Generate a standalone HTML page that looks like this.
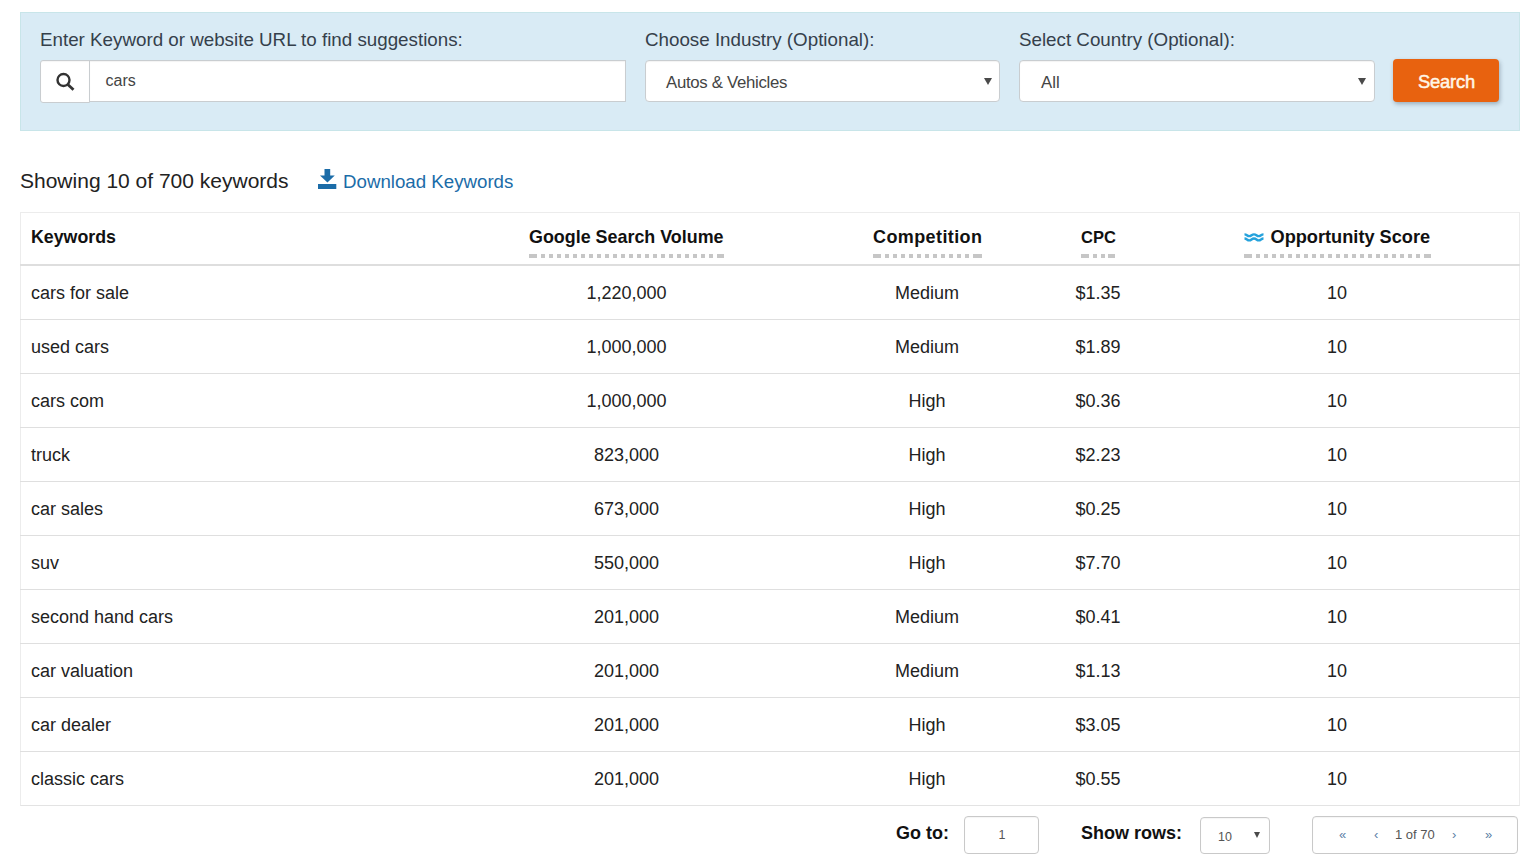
<!DOCTYPE html>
<html><head><meta charset="utf-8">
<style>
*{box-sizing:border-box;margin:0;padding:0}
html,body{width:1528px;height:863px;overflow:hidden;background:#fff}
body{position:relative;font-family:"Liberation Sans",sans-serif;color:#222}
.a{position:absolute}
.t{position:absolute;line-height:0;white-space:nowrap}
.panel{left:20px;top:12px;width:1500px;height:119px;background:#d9ebf5;border:1px solid #c8e5e9}
.addon{left:40px;top:60px;width:50px;height:43px;background:#fff;border:1px solid #c9cdd0;border-radius:3px 0 0 3px;box-shadow:inset 0 1px 1px rgba(0,0,0,.04)}
.inp{left:89px;top:60px;width:537px;height:42px;background:#fff;border:1px solid #c9cdd0;box-shadow:inset 0 1px 1px rgba(0,0,0,.05)}
.sel{top:60px;height:42px;background:#fff;border:1px solid #c9cdd0;border-radius:4px;box-shadow:inset 0 1px 1px rgba(0,0,0,.05)}
.arrow{width:0;height:0;border-left:4px solid transparent;border-right:4px solid transparent;border-top:7px solid #4a4a4a}
.btn{left:1393px;top:59px;width:106px;height:43px;background:#e8620f;border-radius:4px;box-shadow:1px 2px 4px rgba(40,60,80,.35)}
.tbl{left:20px;top:212px;width:1500px;height:594px;border:1px solid #ececec;border-bottom:1px solid #e3e3e3}
.hline{left:20px;top:264px;width:1500px;height:2px;background:#dedede}
.rline{left:20px;width:1500px;height:1px;background:#dfdfdf}
.dots{top:254px;height:4px;background:repeating-linear-gradient(90deg,#c6c6c6 0 4px,transparent 4px 8px)}
.dot2{top:254px;height:4px;background:#c6c6c6}
.box{background:#fff;border:1px solid #c9c9c9;border-radius:4px;box-shadow:inset 0 1px 1px rgba(0,0,0,.04)}
</style></head><body>
<div class="a panel"></div>
<div class="t" style="left:40px;top:40.19px;font-size:18.78px;color:#35404b;font-weight:normal;">Enter Keyword or website URL to find suggestions:</div>
<div class="t" style="left:645px;top:40.19px;font-size:18.78px;color:#35404b;font-weight:normal;">Choose Industry (Optional):</div>
<div class="t" style="left:1019px;top:40.19px;font-size:18.78px;color:#35404b;font-weight:normal;">Select Country (Optional):</div>
<div class="a addon"></div>
<svg class="a" style="left:52px;top:70px" width="28" height="26" viewBox="0 0 28 26">
<circle cx="11.5" cy="10" r="6" fill="none" stroke="#333" stroke-width="2.4"/>
<line x1="15.8" y1="14.5" x2="21.5" y2="19.8" stroke="#333" stroke-width="2.8"/></svg>
<div class="a inp"></div>
<div class="t" style="left:105.5px;top:81.46px;font-size:16px;color:#444;font-weight:normal;">cars</div>
<div class="a sel" style="left:645px;width:355px"></div>
<div class="t" style="left:666px;top:83.18px;font-size:16.8px;color:#444;font-weight:normal;letter-spacing:-0.3px">Autos &amp; Vehicles</div>
<div class="a arrow" style="left:983.5px;top:77.5px"></div>
<div class="a sel" style="left:1019px;width:356px"></div>
<div class="t" style="left:1041px;top:83.18px;font-size:16.8px;color:#444;font-weight:normal;">All</div>
<div class="a arrow" style="left:1358px;top:77.5px"></div>
<div class="a btn"></div>
<div class="t" style="left:1418px;top:81.62px;font-size:18.4px;color:#fff6e6;font-weight:normal;-webkit-text-stroke:0.5px #fff6e6;letter-spacing:-0.2px">Search</div>
<div class="t" style="left:20px;top:181.02px;font-size:21.0px;color:#222;font-weight:normal;">Showing 10 of 700 keywords</div>
<svg class="a" style="left:318px;top:169px" width="19" height="20" viewBox="0 0 19 20">
<rect x="6.5" y="0" width="5.7" height="7" fill="#1b6ca8"/>
<polygon points="2,6.5 16.8,6.5 9.4,13.5" fill="#1b6ca8"/>
<rect x="0" y="15" width="18.3" height="5" fill="#1b6ca8"/></svg>
<div class="t" style="left:343px;top:181.92px;font-size:18.7px;color:#1b6ca8;font-weight:normal;">Download Keywords</div>
<div class="a tbl"></div>
<div class="a hline"></div>
<div class="t" style="left:31px;top:236.83px;font-size:17.8px;color:#111;font-weight:bold;">Keywords</div>
<div class="t" style="left:529px;top:236.80px;font-size:17.9px;color:#111;font-weight:bold;">Google Search Volume</div>
<div class="a dots" style="left:529px;width:195px;background-position-x:4px"></div>
<div class="a dot2" style="left:529px;width:8px"></div>
<div class="a dot2" style="left:717px;width:7px"></div>
<div class="t" style="left:873px;top:236.76px;font-size:18px;color:#111;font-weight:bold;letter-spacing:0.4px">Competition</div>
<div class="a dots" style="left:873px;width:109px;background-position-x:4px"></div>
<div class="a dot2" style="left:873px;width:8px"></div>
<div class="a dot2" style="left:975px;width:7px"></div>
<div class="t" style="left:1081px;top:237.28px;font-size:16.5px;color:#111;font-weight:bold;">CPC</div>
<div class="a dots" style="left:1081px;width:34px;background-position-x:4px"></div>
<div class="a dot2" style="left:1081px;width:8px"></div>
<div class="a dot2" style="left:1108px;width:7px"></div>
<svg class="a" style="left:1243px;top:231px" width="22" height="12" viewBox="0 0 22 12">
<path d="M1.5 3.3 C3.9 3.3 4 5.2 6.25 5.2 C8.5 5.2 8.6 3.3 11 3.3 C13.4 3.3 13.5 5.2 15.75 5.2 C18 5.2 18.1 3.3 20.5 3.3" fill="none" stroke="#25a2dc" stroke-width="2.3"/>
<path d="M1.5 7.5 C3.9 7.5 4 9.4 6.25 9.4 C8.5 9.4 8.6 7.5 11 7.5 C13.4 7.5 13.5 9.4 15.75 9.4 C18 9.4 18.1 7.5 20.5 7.5" fill="none" stroke="#25a2dc" stroke-width="2.3"/></svg>
<div class="t" style="left:1270.5px;top:236.69px;font-size:18.2px;color:#111;font-weight:bold;">Opportunity Score</div>
<div class="a dots" style="left:1244px;width:187px;background-position-x:4px"></div>
<div class="a dot2" style="left:1244px;width:8px"></div>
<div class="a dot2" style="left:1424px;width:7px"></div>
<div class="t" style="left:31px;top:292.76px;font-size:18px;color:#222;font-weight:normal;">cars for sale</div>
<div class="t" style="left:626.5px;top:292.76px;font-size:18px;color:#222;font-weight:normal;transform:translateX(-50%);">1,220,000</div>
<div class="t" style="left:927px;top:292.76px;font-size:18px;color:#222;font-weight:normal;transform:translateX(-50%);">Medium</div>
<div class="t" style="left:1098px;top:292.76px;font-size:18px;color:#222;font-weight:normal;transform:translateX(-50%);">$1.35</div>
<div class="t" style="left:1337px;top:292.76px;font-size:18px;color:#222;font-weight:normal;transform:translateX(-50%);">10</div>
<div class="a rline" style="top:319px"></div>
<div class="t" style="left:31px;top:346.76px;font-size:18px;color:#222;font-weight:normal;">used cars</div>
<div class="t" style="left:626.5px;top:346.76px;font-size:18px;color:#222;font-weight:normal;transform:translateX(-50%);">1,000,000</div>
<div class="t" style="left:927px;top:346.76px;font-size:18px;color:#222;font-weight:normal;transform:translateX(-50%);">Medium</div>
<div class="t" style="left:1098px;top:346.76px;font-size:18px;color:#222;font-weight:normal;transform:translateX(-50%);">$1.89</div>
<div class="t" style="left:1337px;top:346.76px;font-size:18px;color:#222;font-weight:normal;transform:translateX(-50%);">10</div>
<div class="a rline" style="top:373px"></div>
<div class="t" style="left:31px;top:400.76px;font-size:18px;color:#222;font-weight:normal;">cars com</div>
<div class="t" style="left:626.5px;top:400.76px;font-size:18px;color:#222;font-weight:normal;transform:translateX(-50%);">1,000,000</div>
<div class="t" style="left:927px;top:400.76px;font-size:18px;color:#222;font-weight:normal;transform:translateX(-50%);">High</div>
<div class="t" style="left:1098px;top:400.76px;font-size:18px;color:#222;font-weight:normal;transform:translateX(-50%);">$0.36</div>
<div class="t" style="left:1337px;top:400.76px;font-size:18px;color:#222;font-weight:normal;transform:translateX(-50%);">10</div>
<div class="a rline" style="top:427px"></div>
<div class="t" style="left:31px;top:454.76px;font-size:18px;color:#222;font-weight:normal;">truck</div>
<div class="t" style="left:626.5px;top:454.76px;font-size:18px;color:#222;font-weight:normal;transform:translateX(-50%);">823,000</div>
<div class="t" style="left:927px;top:454.76px;font-size:18px;color:#222;font-weight:normal;transform:translateX(-50%);">High</div>
<div class="t" style="left:1098px;top:454.76px;font-size:18px;color:#222;font-weight:normal;transform:translateX(-50%);">$2.23</div>
<div class="t" style="left:1337px;top:454.76px;font-size:18px;color:#222;font-weight:normal;transform:translateX(-50%);">10</div>
<div class="a rline" style="top:481px"></div>
<div class="t" style="left:31px;top:508.76px;font-size:18px;color:#222;font-weight:normal;">car sales</div>
<div class="t" style="left:626.5px;top:508.76px;font-size:18px;color:#222;font-weight:normal;transform:translateX(-50%);">673,000</div>
<div class="t" style="left:927px;top:508.76px;font-size:18px;color:#222;font-weight:normal;transform:translateX(-50%);">High</div>
<div class="t" style="left:1098px;top:508.76px;font-size:18px;color:#222;font-weight:normal;transform:translateX(-50%);">$0.25</div>
<div class="t" style="left:1337px;top:508.76px;font-size:18px;color:#222;font-weight:normal;transform:translateX(-50%);">10</div>
<div class="a rline" style="top:535px"></div>
<div class="t" style="left:31px;top:562.76px;font-size:18px;color:#222;font-weight:normal;">suv</div>
<div class="t" style="left:626.5px;top:562.76px;font-size:18px;color:#222;font-weight:normal;transform:translateX(-50%);">550,000</div>
<div class="t" style="left:927px;top:562.76px;font-size:18px;color:#222;font-weight:normal;transform:translateX(-50%);">High</div>
<div class="t" style="left:1098px;top:562.76px;font-size:18px;color:#222;font-weight:normal;transform:translateX(-50%);">$7.70</div>
<div class="t" style="left:1337px;top:562.76px;font-size:18px;color:#222;font-weight:normal;transform:translateX(-50%);">10</div>
<div class="a rline" style="top:589px"></div>
<div class="t" style="left:31px;top:616.76px;font-size:18px;color:#222;font-weight:normal;">second hand cars</div>
<div class="t" style="left:626.5px;top:616.76px;font-size:18px;color:#222;font-weight:normal;transform:translateX(-50%);">201,000</div>
<div class="t" style="left:927px;top:616.76px;font-size:18px;color:#222;font-weight:normal;transform:translateX(-50%);">Medium</div>
<div class="t" style="left:1098px;top:616.76px;font-size:18px;color:#222;font-weight:normal;transform:translateX(-50%);">$0.41</div>
<div class="t" style="left:1337px;top:616.76px;font-size:18px;color:#222;font-weight:normal;transform:translateX(-50%);">10</div>
<div class="a rline" style="top:643px"></div>
<div class="t" style="left:31px;top:670.76px;font-size:18px;color:#222;font-weight:normal;">car valuation</div>
<div class="t" style="left:626.5px;top:670.76px;font-size:18px;color:#222;font-weight:normal;transform:translateX(-50%);">201,000</div>
<div class="t" style="left:927px;top:670.76px;font-size:18px;color:#222;font-weight:normal;transform:translateX(-50%);">Medium</div>
<div class="t" style="left:1098px;top:670.76px;font-size:18px;color:#222;font-weight:normal;transform:translateX(-50%);">$1.13</div>
<div class="t" style="left:1337px;top:670.76px;font-size:18px;color:#222;font-weight:normal;transform:translateX(-50%);">10</div>
<div class="a rline" style="top:697px"></div>
<div class="t" style="left:31px;top:724.76px;font-size:18px;color:#222;font-weight:normal;">car dealer</div>
<div class="t" style="left:626.5px;top:724.76px;font-size:18px;color:#222;font-weight:normal;transform:translateX(-50%);">201,000</div>
<div class="t" style="left:927px;top:724.76px;font-size:18px;color:#222;font-weight:normal;transform:translateX(-50%);">High</div>
<div class="t" style="left:1098px;top:724.76px;font-size:18px;color:#222;font-weight:normal;transform:translateX(-50%);">$3.05</div>
<div class="t" style="left:1337px;top:724.76px;font-size:18px;color:#222;font-weight:normal;transform:translateX(-50%);">10</div>
<div class="a rline" style="top:751px"></div>
<div class="t" style="left:31px;top:778.76px;font-size:18px;color:#222;font-weight:normal;">classic cars</div>
<div class="t" style="left:626.5px;top:778.76px;font-size:18px;color:#222;font-weight:normal;transform:translateX(-50%);">201,000</div>
<div class="t" style="left:927px;top:778.76px;font-size:18px;color:#222;font-weight:normal;transform:translateX(-50%);">High</div>
<div class="t" style="left:1098px;top:778.76px;font-size:18px;color:#222;font-weight:normal;transform:translateX(-50%);">$0.55</div>
<div class="t" style="left:1337px;top:778.76px;font-size:18px;color:#222;font-weight:normal;transform:translateX(-50%);">10</div>
<div class="t" style="left:896px;top:832.76px;font-size:18px;color:#111;font-weight:bold;">Go to:</div>
<div class="a box" style="left:964px;top:816px;width:75px;height:38px"></div>
<div class="t" style="left:1002px;top:834.67px;font-size:12.5px;color:#555;font-weight:normal;transform:translateX(-50%);">1</div>
<div class="t" style="left:1081px;top:832.76px;font-size:18px;color:#111;font-weight:bold;">Show rows:</div>
<div class="a box" style="left:1200px;top:817px;width:70px;height:37px"></div>
<div class="t" style="left:1218px;top:837.17px;font-size:12.5px;color:#555;font-weight:normal;">10</div>
<div class="a arrow" style="left:1253.6px;top:832px;border-left-width:3.7px;border-right-width:3.7px;border-top-width:6.3px"></div>
<div class="a box" style="left:1312px;top:816px;width:206px;height:38px"></div>
<div class="t" style="left:1339px;top:834.50px;font-size:13px;color:#5b7fa6;font-weight:normal;">&laquo;</div>
<div class="t" style="left:1374px;top:834.50px;font-size:13px;color:#5b7fa6;font-weight:normal;">&lsaquo;</div>
<div class="t" style="left:1395px;top:834.50px;font-size:13px;color:#555;font-weight:normal;">1 of 70</div>
<div class="t" style="left:1452px;top:834.50px;font-size:13px;color:#5b7fa6;font-weight:normal;">&rsaquo;</div>
<div class="t" style="left:1485px;top:834.50px;font-size:13px;color:#5b7fa6;font-weight:normal;">&raquo;</div>
</body></html>
